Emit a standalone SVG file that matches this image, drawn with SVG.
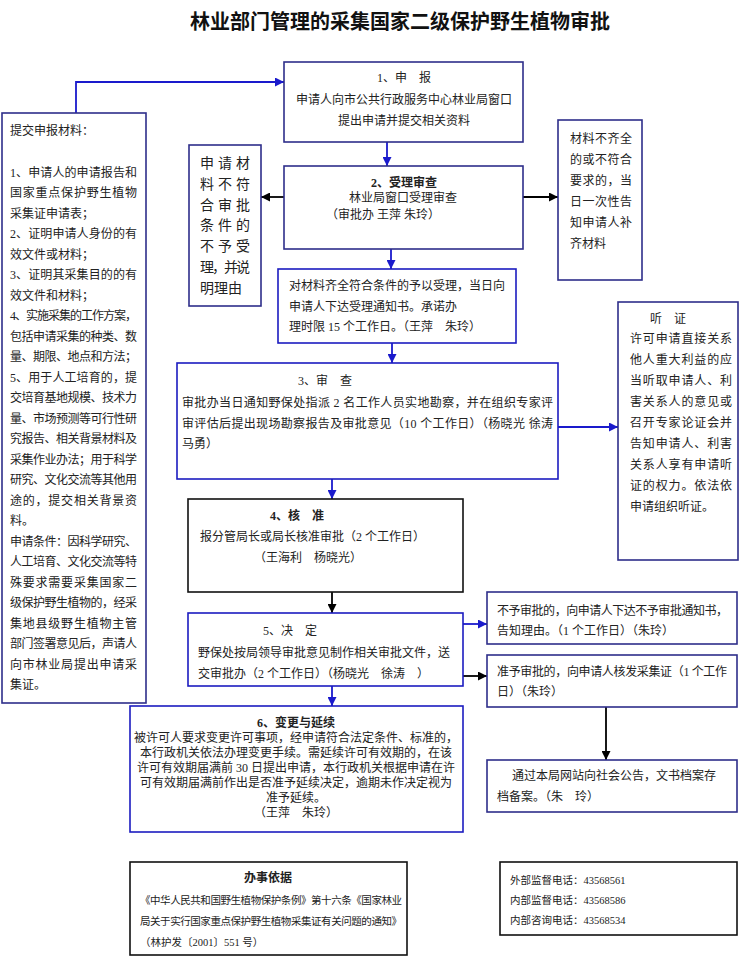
<svg xmlns="http://www.w3.org/2000/svg" width="742" height="957" viewBox="0 0 742 957">
<style>
.nb{fill:#fff;stroke:#2e2e8a;stroke-width:1.6}
.bb{fill:#fff;stroke:#1c1cc0;stroke-width:1.6}
.kb{fill:#fff;stroke:#111;stroke-width:1.6}
.t{font-family:"Liberation Serif","Noto Sans CJK SC",serif;font-size:12px;fill:#222}
.s{font-size:10.5px}
.h{font-weight:bold}
.c{text-anchor:middle}
.title{font-family:"Noto Sans CJK SC",sans-serif;font-size:20px;font-weight:bold;fill:#111;text-anchor:middle}
.lb{fill:none;stroke:#1a1acc;stroke-width:1.8}
.lk{fill:none;stroke:#000;stroke-width:1.8}
</style>
<defs>
<marker id="ab" viewBox="0 0 10 10" refX="10" refY="5" markerWidth="9" markerHeight="9" markerUnits="userSpaceOnUse" orient="auto"><path d="M0,0L10,5L0,10z" fill="#1a1acc"/></marker>
<marker id="ak" viewBox="0 0 10 10" refX="10" refY="5" markerWidth="9" markerHeight="9" markerUnits="userSpaceOnUse" orient="auto"><path d="M0,0L10,5L0,10z" fill="#000"/></marker>
</defs>
<rect width="742" height="957" fill="#fff"/>
<text class="title" x="400" y="29">林业部门管理的采集国家二级保护野生植物审批</text>

<g id="connectors">
<path class="lb" d="M76,113V82H284" marker-end="url(#ab)"/>
<path class="lb" d="M387,142V166" marker-end="url(#ab)"/>
<path class="lk" d="M284,197H261" marker-end="url(#ak)"/>
<path class="lk" d="M523,197H558" marker-end="url(#ak)"/>
<path class="lb" d="M391,249V269" marker-end="url(#ab)"/>
<path class="lb" d="M392,343V363" marker-end="url(#ab)"/>
<path class="lb" d="M558,427H618" marker-end="url(#ab)"/>
<path class="lb" d="M332,479V499" marker-end="url(#ab)"/>
<path class="lk" d="M332,592V613" marker-end="url(#ak)"/>
<path class="lb" d="M463,624H487" marker-end="url(#ab)"/>
<path class="lk" d="M463,676H487" marker-end="url(#ak)"/>
<path class="lk" d="M606,707V760" marker-end="url(#ak)"/>
<path class="lb" d="M332,686V706" marker-end="url(#ab)"/>
</g>

<g id="n-apply">
<rect class="nb" x="284" y="62" width="239" height="80"/>
<text class="t c" x="404" y="82">1、申　报</text>
<text class="t c" x="404" y="104">申请人向市公共行政服务中心林业局窗口</text>
<text class="t c" x="404" y="125">提出申请并提交相关资料</text>
</g>

<g id="n-materials">
<rect class="nb" x="2" y="113" width="144" height="590"/>
<text class="t" x="10" y="135">提交申报材料：</text>
<text class="t" x="10" y="176.5" textLength="127" lengthAdjust="spacing">1、申请人的申请报告和</text>
<text class="t" x="10" y="197" textLength="127" lengthAdjust="spacing">国家重点保护野生植物</text>
<text class="t" x="10" y="217.5">采集证申请表；</text>
<text class="t" x="10" y="238" textLength="127" lengthAdjust="spacing">2、证明申请人身份的有</text>
<text class="t" x="10" y="258.5">效文件或材料；</text>
<text class="t" x="10" y="279" textLength="127" lengthAdjust="spacing">3、证明其采集目的的有</text>
<text class="t" x="10" y="299.5">效文件和材料；</text>
<text class="t" x="10" y="320" textLength="127" lengthAdjust="spacing">4、实施采集的工作方案，</text>
<text class="t" x="10" y="340.5" textLength="127" lengthAdjust="spacing">包括申请采集的种类、数</text>
<text class="t" x="10" y="361" textLength="127" lengthAdjust="spacing">量、期限、地点和方法；</text>
<text class="t" x="10" y="381.5" textLength="127" lengthAdjust="spacing">5、用于人工培育的，提</text>
<text class="t" x="10" y="402" textLength="127" lengthAdjust="spacing">交培育基地规模、技术力</text>
<text class="t" x="10" y="422.5" textLength="127" lengthAdjust="spacing">量、市场预测等可行性研</text>
<text class="t" x="10" y="443" textLength="127" lengthAdjust="spacing">究报告、相关背景材料及</text>
<text class="t" x="10" y="463.5" textLength="127" lengthAdjust="spacing">采集作业办法；用于科学</text>
<text class="t" x="10" y="484" textLength="127" lengthAdjust="spacing">研究、文化交流等其他用</text>
<text class="t" x="10" y="504.5" textLength="127" lengthAdjust="spacing">途的，提交相关背景资</text>
<text class="t" x="10" y="525">料。</text>
<text class="t" x="10" y="545.5" textLength="127" lengthAdjust="spacing">申请条件：因科学研究、</text>
<text class="t" x="10" y="566" textLength="127" lengthAdjust="spacing">人工培育、文化交流等特</text>
<text class="t" x="10" y="586.5" textLength="127" lengthAdjust="spacing">殊要求需要采集国家二</text>
<text class="t" x="10" y="607" textLength="127" lengthAdjust="spacing">级保护野生植物的，经采</text>
<text class="t" x="10" y="627.5" textLength="127" lengthAdjust="spacing">集地县级野生植物主管</text>
<text class="t" x="10" y="648" textLength="127" lengthAdjust="spacing">部门签署意见后，声请人</text>
<text class="t" x="10" y="668.5" textLength="127" lengthAdjust="spacing">向市林业局提出申请采</text>
<text class="t" x="10" y="689">集证。</text>
</g>

<g id="n-reject">
<rect class="nb" x="189" y="145" width="72" height="161"/>
<text class="t" style="font-size:14px" x="200" y="168" textLength="50" lengthAdjust="spacing">申请材</text>
<text class="t" style="font-size:14px" x="200" y="189" textLength="50" lengthAdjust="spacing">料不符</text>
<text class="t" style="font-size:14px" x="200" y="209.5" textLength="50" lengthAdjust="spacing">合审批</text>
<text class="t" style="font-size:14px" x="200" y="230" textLength="50" lengthAdjust="spacing">条件的</text>
<text class="t" style="font-size:14px" x="200" y="251" textLength="50" lengthAdjust="spacing">不予受</text>
<text class="t" style="font-size:14px" x="200" y="272" textLength="50" lengthAdjust="spacing">理，并说</text>
<text class="t" style="font-size:14px" x="200" y="292.5">明理由</text>
</g>

<g id="n-accept">
<rect class="nb" x="284" y="166" width="239" height="83"/>
<text class="t c h" x="404" y="186.5">2、受理审查</text>
<text class="t c" x="403" y="201.5">林业局窗口受理审查</text>
<text class="t c" x="383" y="218.5">（审批办 王萍  朱玲）</text>
</g>

<g id="n-incomplete">
<rect class="nb" x="558" y="120" width="84" height="160"/>
<text class="t" x="570" y="143" textLength="62" lengthAdjust="spacing">材料不齐全</text>
<text class="t" x="570" y="164" textLength="62" lengthAdjust="spacing">的或不符合</text>
<text class="t" x="570" y="185" textLength="62" lengthAdjust="spacing">要求的，当</text>
<text class="t" x="570" y="206" textLength="62" lengthAdjust="spacing">日一次性告</text>
<text class="t" x="570" y="227" textLength="62" lengthAdjust="spacing">知申请人补</text>
<text class="t" x="570" y="248">齐材料</text>
</g>

<g id="n-accepted">
<rect class="bb" x="278" y="269" width="238" height="74"/>
<text class="t" x="289" y="289.5">对材料齐全符合条件的予以受理，当日向</text>
<text class="t" x="289" y="310.5">申请人下达受理通知书。承诺办</text>
<text class="t" x="289" y="331">理时限 15 个工作日。（王萍　朱玲）</text>
</g>

<g id="n-review">
<rect class="bb" x="177" y="363" width="381" height="116"/>
<text class="t c" x="325" y="384.5">3、审　查</text>
<text class="t" x="182" y="406.5" textLength="371" lengthAdjust="spacing">审批办当日通知野保处指派 2 名工作人员实地勘察，并在组织专家评</text>
<text class="t" x="182" y="427.5" textLength="371" lengthAdjust="spacing">审评估后提出现场勘察报告及审批意见（10 个工作日）（杨晓光  徐涛</text>
<text class="t" x="182" y="447.5">马勇）</text>
</g>

<g id="n-hearing">
<rect class="nb" x="618" y="302" width="120" height="258"/>
<text class="t c" x="668" y="322.5">听　证</text>
<text class="t" x="630" y="342.5" textLength="102" lengthAdjust="spacing">许可申请直接关系</text>
<text class="t" x="630" y="363.5" textLength="102" lengthAdjust="spacing">他人重大利益的应</text>
<text class="t" x="630" y="384.5" textLength="102" lengthAdjust="spacing">当听取申请人、利</text>
<text class="t" x="630" y="405.5" textLength="102" lengthAdjust="spacing">害关系人的意见或</text>
<text class="t" x="630" y="426.5" textLength="102" lengthAdjust="spacing">召开专家论证会并</text>
<text class="t" x="630" y="447.5" textLength="102" lengthAdjust="spacing">告知申请人、利害</text>
<text class="t" x="630" y="468.5" textLength="102" lengthAdjust="spacing">关系人享有申请听</text>
<text class="t" x="630" y="489.5" textLength="102" lengthAdjust="spacing">证的权力。依法依</text>
<text class="t" x="630" y="510.5">申请组织听证。</text>
</g>

<g id="n-approve">
<rect class="kb" x="188" y="499" width="275" height="93"/>
<text class="t c h" x="297" y="519.5">4、核　准</text>
<text class="t" x="200" y="540.5">报分管局长或局长核准审批（2 个工作日）</text>
<text class="t c" x="308" y="561.5">（王海利　杨晓光）</text>
</g>

<g id="n-decide">
<rect class="bb" x="188" y="613" width="275" height="73"/>
<text class="t c" x="290" y="634.5">5、决　定</text>
<text class="t" x="198" y="656.5">野保处按局领导审批意见制作相关审批文件，送</text>
<text class="t" x="198" y="677.5">交审批办（2 个工作日）（杨晓光　徐涛　）</text>
</g>

<g id="n-deny">
<rect class="nb" x="487" y="592" width="250" height="52"/>
<text class="t" x="497" y="614.5" textLength="231" lengthAdjust="spacing">不予审批的，向申请人下达不予审批通知书，</text>
<text class="t" x="497" y="634.5">告知理由。（1 个工作日）（朱玲）</text>
</g>

<g id="n-grant">
<rect class="nb" x="487" y="655" width="250" height="52"/>
<text class="t" x="497" y="675.5" textLength="230" lengthAdjust="spacing">准予审批的，向申请人核发采集证（1 个工作</text>
<text class="t" x="497" y="695.5">日）（朱玲）</text>
</g>

<g id="n-publish">
<rect class="nb" x="487" y="760" width="250" height="52"/>
<text class="t" x="512" y="780">通过本局网站向社会公告，文书档案存</text>
<text class="t" x="497" y="801">档备案。（朱　玲）</text>
</g>

<g id="n-change">
<rect class="bb" x="130" y="706" width="333" height="126"/>
<text class="t c h" x="296" y="726.5">6、变更与延续</text>
<text class="t c" x="296" y="741.5">被许可人要求变更许可事项，经申请符合法定条件、标准的，</text>
<text class="t c" x="296" y="756.5">本行政机关依法办理变更手续。需延续许可有效期的，在该</text>
<text class="t c" x="296" y="771.5">许可有效期届满前 30 日提出申请，本行政机关根据申请在许</text>
<text class="t c" x="296" y="786.5">可有效期届满前作出是否准予延续决定，逾期未作决定视为</text>
<text class="t c" x="296" y="801.5">准予延续。</text>
<text class="t c" x="296" y="816.5">（王萍　朱玲）</text>
</g>

<g id="n-basis">
<rect class="kb" x="130" y="862" width="277" height="93"/>
<text class="t c h" x="268" y="882">办事依据</text>
<text class="t s" x="140" y="904" textLength="262" lengthAdjust="spacing">《中华人民共和国野生植物保护条例》第十六条《国家林业</text>
<text class="t s" x="140" y="925" textLength="262" lengthAdjust="spacing">局关于实行国家重点保护野生植物采集证有关问题的通知》</text>
<text class="t s" x="140" y="946">（林护发〔2001〕551 号）</text>
</g>

<g id="n-phone">
<rect class="kb" x="500" y="862" width="237" height="73"/>
<text class="t s" x="510" y="884">外部监督电话：43568561</text>
<text class="t s" x="510" y="904">内部监督电话：43568586</text>
<text class="t s" x="510" y="924">内部咨询电话：43568534</text>
</g>
</svg>
